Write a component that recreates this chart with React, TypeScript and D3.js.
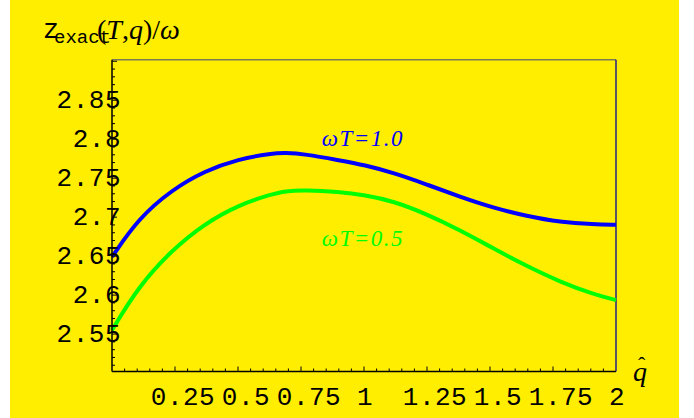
import * as d3 from "d3";

// q values (x) and z/omega values
const qValues = [0, 0.104, 0.237, 0.369, 0.501, 0.634, 0.687, 0.766, 0.898, 1.004, 1.116, 1.249, 1.381, 1.513, 1.646, 1.778, 1.91, 2.0];
const blueValues = [2.649, 2.698, 2.735, 2.7595, 2.7745, 2.7818, 2.7826, 2.7809, 2.7732, 2.7668, 2.7569, 2.742, 2.7261, 2.712, 2.7014, 2.6937, 2.6907, 2.6902];
const greenValues = [2.555, 2.6106, 2.6577, 2.692, 2.7155, 2.7296, 2.7335, 2.7347, 2.7326, 2.7283, 2.7206, 2.7039, 2.6834, 2.6599, 2.6372, 2.617, 2.6012, 2.5935];

const xTickLabels = [0.25, 0.5, 0.75, 1, 1.25, 1.5, 1.75, 2];
const yTickLabels = [2.55, 2.6, 2.65, 2.7, 2.75, 2.8, 2.85];

const seriesNames = ["\u03c9T=1.0", "\u03c9T=0.5"];
const labelQ = [0.832, 0.832];
const labelV = [2.7912, 2.6628];

const W = 694;
const H = 418;
const left = 112;
const right = 616;
const top = 59.7;
const bottom = 371.5;

const mono = "'Liberation Mono', 'Courier New', monospace";
const serif = "'Liberation Serif', 'Times New Roman', serif";

export default function App() {
  const x = d3.scaleLinear().domain([0, 2]).range([left, right]);
  const y = d3.scaleLinear().domain([2.502, 2.902]).range([bottom, top]);

  const line = d3
    .line<number>()
    .x((_, i) => x(qValues[i]))
    .y((d) => y(d))
    .curve(d3.curveBasis);

  const xMinor = d3.range(1, 40).map((i) => i * 0.05);
  const yMinor = d3.range(251, 291).map((i) => i / 100);

  const fmt = (v: number) => String(+v.toFixed(2));

  return (
    <svg
      width={W}
      height={H}
      style={{ position: "absolute", left: 0, top: 0, background: "#fff" }}
    >
      <rect x={10} y={0} width={669} height={H} fill="#FFEE00" />

      {/* frame */}
      <line x1={left} x2={right} y1={top} y2={top} stroke="#7a7a55" strokeWidth={1.5} />
      <line x1={right} x2={right} y1={top} y2={bottom} stroke="#0000a0" strokeWidth={1.3} />

      {/* data */}
      <path d={line(blueValues) || ""} fill="none" stroke="#0000FF" strokeWidth={4} />
      <path d={line(greenValues) || ""} fill="none" stroke="#00FF00" strokeWidth={4} />

      <line x1={left} x2={left} y1={top} y2={bottom} stroke="#000" strokeWidth={1.5} />
      <line x1={left} x2={right} y1={bottom} y2={bottom} stroke="#000" strokeWidth={1.5} />

      {/* ticks */}
      {xMinor.map((v, i) => {
        const major = (i + 1) % 5 === 0;
        return (
          <line key={"xt" + i} x1={x(v)} x2={x(v)} y1={bottom} y2={bottom - (major ? 5 : 3)} stroke="#000" strokeWidth={1} />
        );
      })}
      {yMinor.map((v, i) => {
        const major = Math.round(v * 100) % 5 === 0;
        return (
          <line key={"yt" + i} x1={left} x2={left + (major ? 5 : 3)} y1={y(v)} y2={y(v)} stroke="#000" strokeWidth={1} />
        );
      })}

      {/* tick labels */}
      {xTickLabels.map((v) => (
        <text
          key={"xl" + v}
          x={x(v) + (Number.isInteger(v) ? 1 : 8)}
          y={bottom + 33.5}
          textAnchor="middle"
          fontFamily={mono}
          fontSize={26}
          letterSpacing={0.5}
          fill="#000"
        >
          {fmt(v)}
        </text>
      ))}
      {yTickLabels.map((v) => (
        <text
          key={"yl" + v}
          x={121}
          y={y(v) + 8}
          textAnchor="end"
          fontFamily={mono}
          fontSize={26}
          letterSpacing={0.5}
          fill="#000"
        >
          {fmt(v)}
        </text>
      ))}

      {/* series labels */}
      {seriesNames.map((s, i) => (
        <text
          key={s}
          x={x(labelQ[i])}
          y={y(labelV[i])}
          fontFamily={serif}
          fontStyle="italic"
          fontSize={23}
          letterSpacing={1.5}
          fill={i === 0 ? "#0000FF" : "#00FF00"}
        >
          {s}
        </text>
      ))}

      {/* axis titles */}
      <text x={43} y={38} fontFamily={mono} fontSize={27} fill="#000">z</text>
      <text x={54} y={43} fontFamily={mono} fontSize={19} fill="#000">exact</text>
      <text x={97} y={39} fontFamily={serif} fontSize={28} fill="#000">
        (<tspan fontStyle="italic">T</tspan>,<tspan fontStyle="italic">q</tspan>)/<tspan fontStyle="italic">{"\u03c9"}</tspan>
      </text>

      <text x={633} y={381} fontFamily={serif} fontStyle="italic" fontSize={28} fill="#000">q</text>
      <text x={638} y={381} dy={-9} fontFamily={serif} fontSize={22} fill="#000">{"\u02c6"}</text>
    </svg>
  );
}
